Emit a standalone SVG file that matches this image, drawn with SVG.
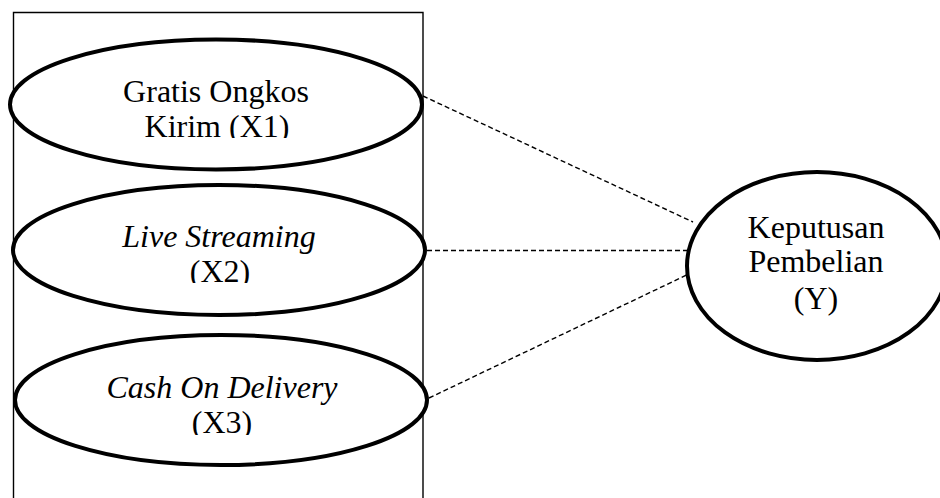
<svg xmlns="http://www.w3.org/2000/svg" width="940" height="498" viewBox="0 0 940 498">
<style>
.node{fill:#fff;stroke:#000;stroke-width:4}
.t{font-family:"Liberation Serif","Times New Roman",serif;font-size:32px;fill:#000;text-anchor:middle}
.i{font-style:italic}
.c{stroke:#000;stroke-width:1.4;stroke-dasharray:5 3;fill:none}
</style>
<defs>
<clipPath id="c1"><rect x="0" y="0" width="940" height="138"/></clipPath>
<clipPath id="c2"><rect x="0" y="0" width="940" height="283"/></clipPath>
<clipPath id="c3"><rect x="0" y="0" width="940" height="435"/></clipPath>
</defs>
<rect width="940" height="498" fill="#fff"/>
<path d="M13.5 500 V12.5 H423 V500" fill="none" stroke="#000" stroke-width="1.4"/>
<g id="connectors">
<line class="c" x1="423" y1="96" x2="693" y2="222"/>
<line class="c" x1="427" y1="250.5" x2="687" y2="250.5"/>
<line class="c" x1="429" y1="398" x2="693" y2="272"/>
</g>
<g id="x1">
<ellipse class="node" cx="216" cy="104.5" rx="206" ry="65"/>
<text class="t" x="216" y="102">Gratis Ongkos</text>
<text class="t" x="217" y="137" clip-path="url(#c1)">Kirim (X1)</text>
</g>
<g id="x2">
<ellipse class="node" cx="219" cy="250" rx="206" ry="65"/>
<text class="t i" x="219" y="247">Live Streaming</text>
<text class="t" x="220" y="282" clip-path="url(#c2)">(X2)</text>
</g>
<g id="x3">
<ellipse class="node" cx="221" cy="400" rx="206" ry="65"/>
<text class="t i" x="222" y="398">Cash On Delivery</text>
<text class="t" x="222" y="433" clip-path="url(#c3)">(X3)</text>
</g>
<g id="y">
<ellipse class="node" cx="817" cy="266" rx="130" ry="94"/>
<text class="t" x="816" y="238">Keputusan</text>
<text class="t" x="816" y="272">Pembelian</text>
<text class="t" x="816" y="309">(Y)</text>
</g>
</svg>
